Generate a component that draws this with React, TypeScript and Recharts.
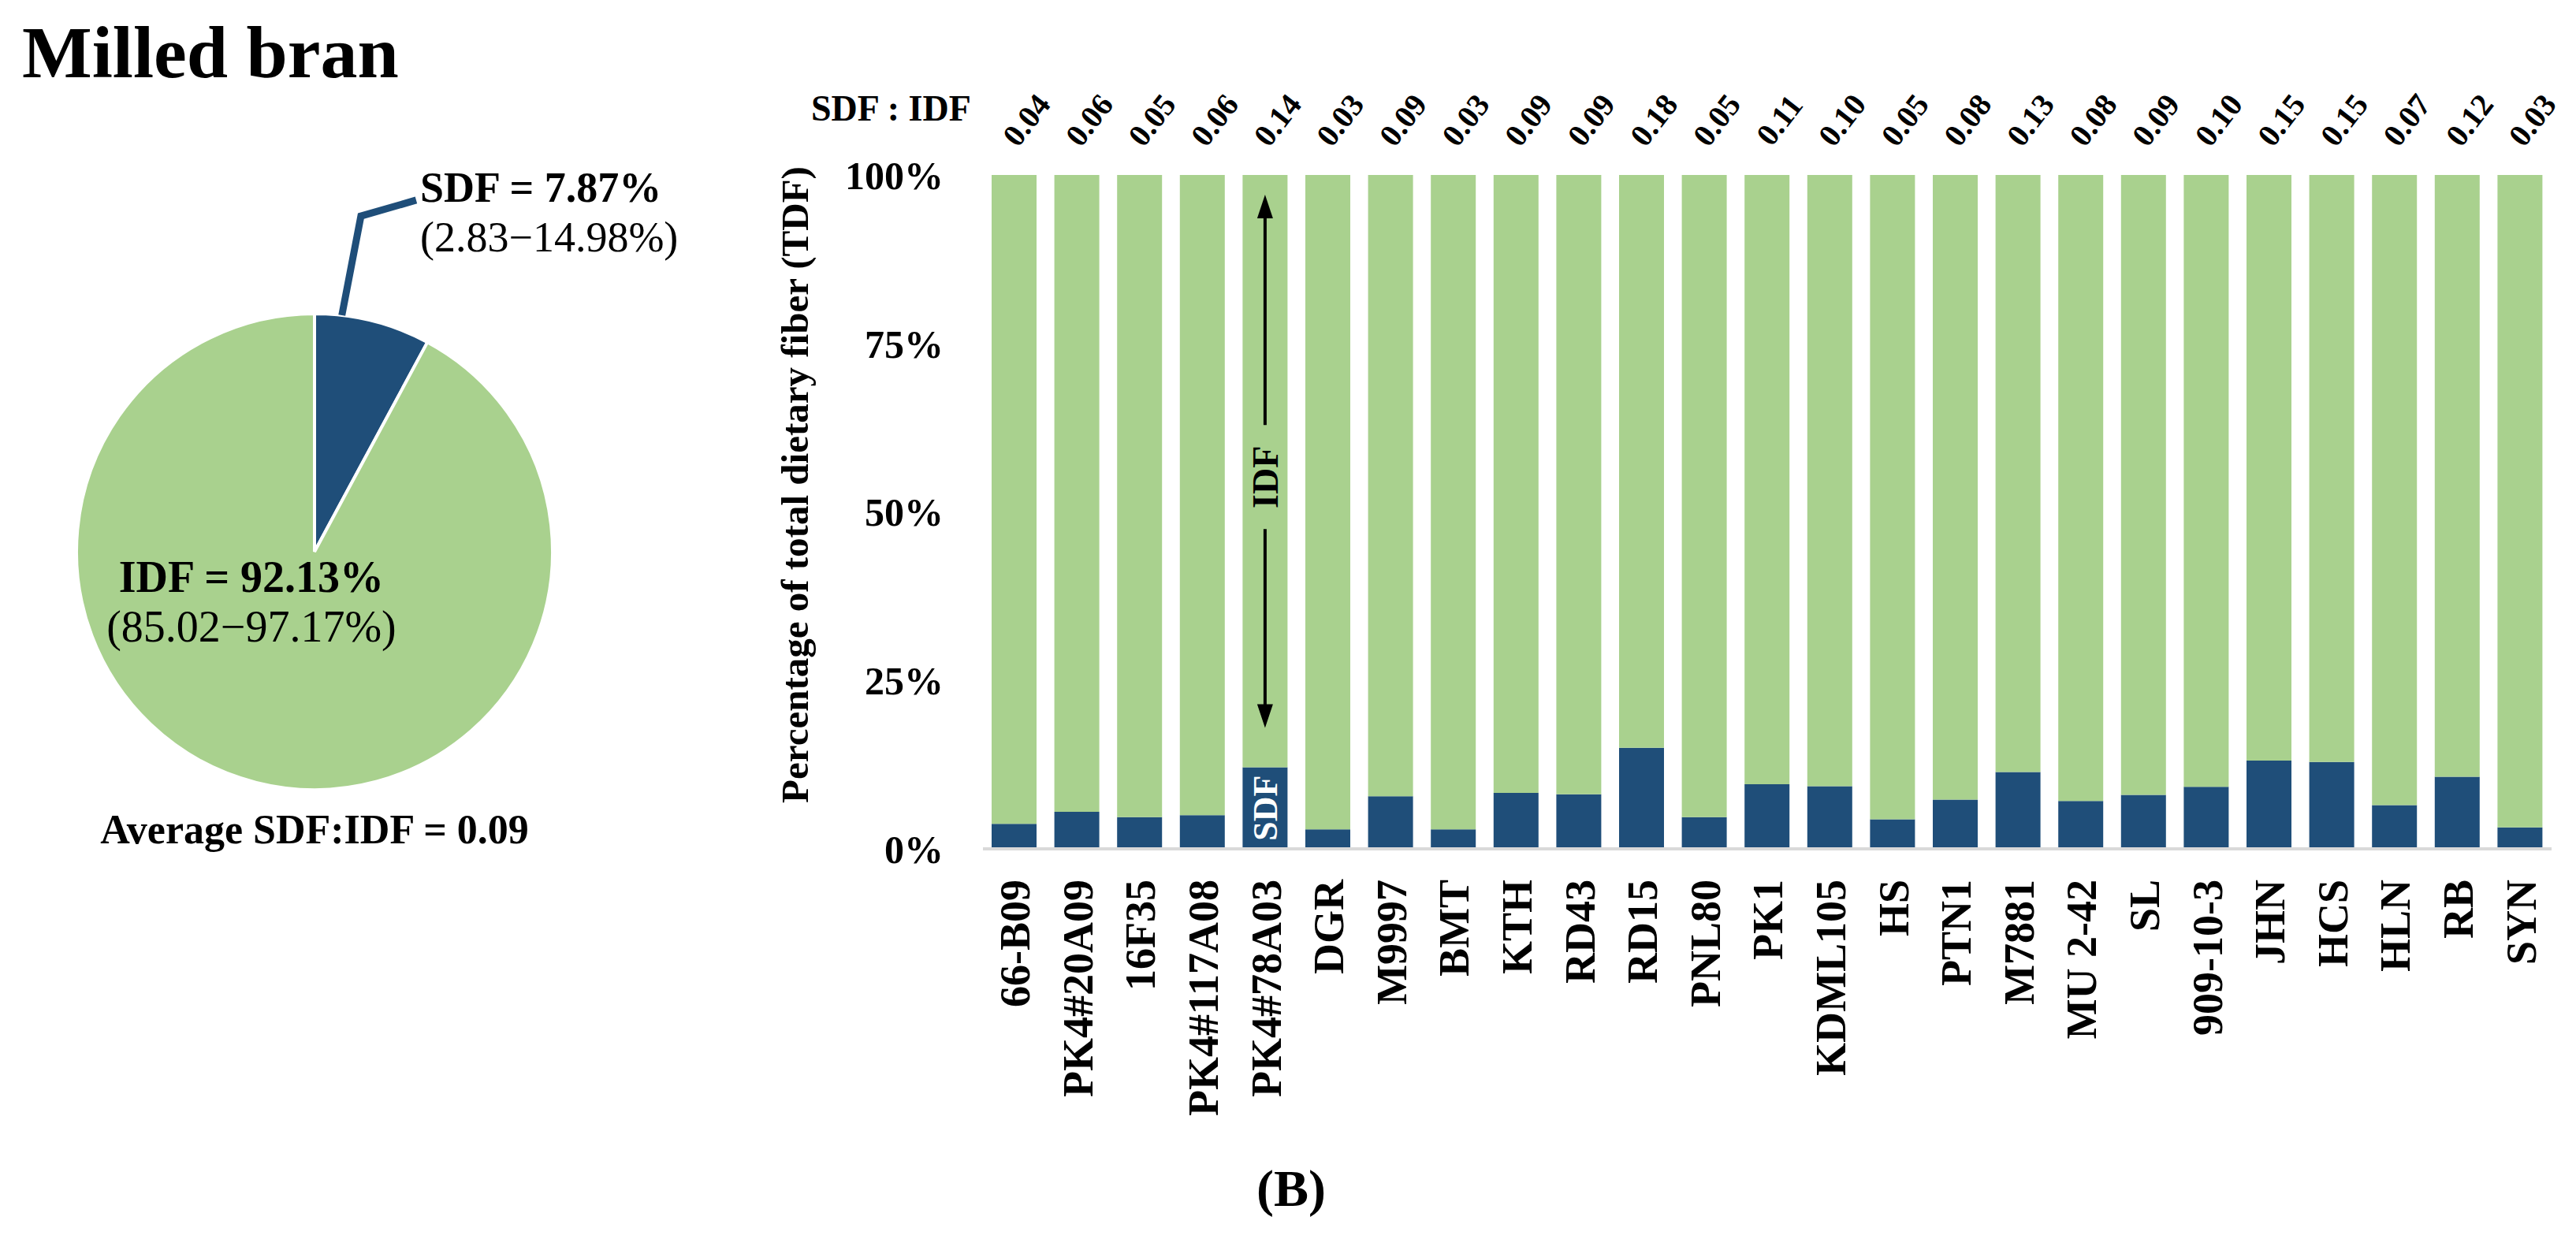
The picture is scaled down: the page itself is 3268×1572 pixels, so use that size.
import React from 'react';
import { BarChart, Bar, XAxis, YAxis, LabelList, PieChart, Pie, Cell } from 'recharts';

// cultivars along the x axis
const cultivars = [
  '66-B09', 'PK4#20A09', '16F35', 'PK4#117A08', 'PK4#78A03', 'DGR', 'M9997', 'BMT',
  'KTH', 'RD43', 'RD15', 'PNL80', 'PK1', 'KDML105', 'HS', 'PTN1', 'M7881', 'MU 2-42',
  'SL', '909-10-3', 'JHN', 'HCS', 'HLN', 'RB', 'SYN',
];

// soluble dietary fiber, % of TDF
const sdfPercent = [
  3.7, 5.5, 4.7, 5.0, 12.1, 2.9, 7.8, 2.9, 8.3, 8.1, 15.0, 4.7, 9.6, 9.3, 4.4, 7.3,
  11.4, 7.1, 8.0, 9.2, 13.1, 12.9, 6.5, 10.7, 3.2,
];

// SDF : IDF ratio printed above each bar
const ratioLabels = [
  '0.04', '0.06', '0.05', '0.06', '0.14', '0.03', '0.09', '0.03', '0.09', '0.09', '0.18',
  '0.05', '0.11', '0.10', '0.05', '0.08', '0.13', '0.08', '0.09', '0.10', '0.15', '0.15',
  '0.07', '0.12', '0.03',
];

const yTicks = [0, 25, 50, 75, 100];

// pie: average composition of milled bran
const pieNames = ['SDF', 'IDF'];
const pieValues = [7.87, 92.13];
const pieRanges = ['(2.83\u221214.98%)', '(85.02\u221297.17%)'];

const DARK = '#1f4e79';
const GREEN = '#a9d18e';
const FONT = '"Liberation Serif", "Times New Roman", serif';

const barData = cultivars.map((name, i) => ({
  name,
  sdf: sdfPercent[i],
  idf: 100 - sdfPercent[i],
  ratio: ratioLabels[i],
}));

const pieData = pieNames.map((name, i) => ({ name, value: pieValues[i], range: pieRanges[i] }));

const renderPieLabel = (props: any) => {
  const { cx, cy, outerRadius, index, payload, value } = props;
  const r = outerRadius;
  if (index === 0) {
    const a = (83.4 * Math.PI) / 180;
    const sx = cx + r * Math.cos(a);
    const sy = cy - r * Math.sin(a);
    const bx = cx + 0.195 * r;
    const by = cy - 1.41 * r;
    const ex = cx + 0.427 * r;
    const ey = cy - 1.477 * r;
    return (
      <g>
        <polyline
          points={`${sx},${sy} ${bx},${by} ${ex},${ey}`}
          fill="none"
          stroke={DARK}
          strokeWidth={9}
        />
        <text x={ex + 5} y={ey + 2} fontFamily={FONT} fontSize={54} fontWeight="bold" fill="#000">
          {`${payload.name} = ${value.toFixed(2)}%`}
        </text>
        <text x={ex + 5} y={ey + 65} fontFamily={FONT} fontSize={54} fill="#000">
          {payload.range}
        </text>
      </g>
    );
  }
  const tx = cx - 0.265 * r;
  return (
    <g>
      <text x={tx} y={cy + 51} textAnchor="middle" fontFamily={FONT} fontSize={56} fontWeight="bold" fill="#000">
        {`${payload.name} = ${value.toFixed(2)}%`}
      </text>
      <text x={tx} y={cy + 114} textAnchor="middle" fontFamily={FONT} fontSize={56} fill="#000">
        {payload.range}
      </text>
    </g>
  );
};

const CategoryTick = ({ x, y, payload }: any) => (
  <text
    x={x}
    y={y}
    transform={`rotate(-90, ${x}, ${y})`}
    textAnchor="end"
    dy="0.36em"
    fontFamily={FONT}
    fontSize={54}
    fontWeight="bold"
    fill="#000"
  >
    {payload.value}
  </text>
);

// ratio printed above the bars, on a hidden top category axis
const RatioTick = ({ x, y, payload }: any) => {
  const lx = Number(x) + 15;
  const ly = Number(y) - 70;
  return (
    <g transform={`translate(${lx}, ${ly}) rotate(-52)`}>
      <text
        x={0}
        y={0}
        textAnchor="middle"
        dy="0.35em"
        fontFamily={FONT}
        fontSize={40}
        fontWeight="bold"
        fill="#000"
      >
        {payload.value}
      </text>
    </g>
  );
};

// arrow + "IDF" drawn inside the PK4#78A03 bar
const IdfArrow = (props: any) => {
  const { x, y, width, height, index } = props;
  if (index !== 4) return null;
  const cx = Number(x) + Number(width) / 2;
  const top = Number(y) + 25;
  const bottom = Number(y) + Number(height) - 50;
  const mid = Number(y) + Number(height) * 0.51;
  return (
    <g>
      <line x1={cx} y1={top + 20} x2={cx} y2={mid - 66} stroke="#000" strokeWidth={4} />
      <polygon points={`${cx},${top} ${cx - 10},${top + 30} ${cx + 10},${top + 30}`} fill="#000" />
      <line x1={cx} y1={mid + 66} x2={cx} y2={bottom - 20} stroke="#000" strokeWidth={4} />
      <polygon points={`${cx},${bottom} ${cx - 10},${bottom - 30} ${cx + 10},${bottom - 30}`} fill="#000" />
      <text
        x={cx}
        y={mid}
        transform={`rotate(-90, ${cx}, ${mid})`}
        textAnchor="middle"
        dy="0.35em"
        fontFamily={FONT}
        fontSize={46}
        fontWeight="bold"
        fill="#000"
      >
        IDF
      </text>
    </g>
  );
};

const SdfTag = (props: any) => {
  const { x, y, width, height, index } = props;
  if (index !== 4) return null;
  const cx = Number(x) + Number(width) / 2;
  const cy = Number(y) + Number(height) / 2;
  return (
    <text
      x={cx}
      y={cy}
      transform={`rotate(-90, ${cx}, ${cy})`}
      textAnchor="middle"
      dy="0.35em"
      fontFamily={FONT}
      fontSize={44}
      fontWeight="bold"
      fill="#fff"
    >
      SDF
    </text>
  );
};

const App: React.FC = () => {
  return (
    <div style={{ position: 'relative', width: 3252, height: 1556, background: '#fff' }}>
      {/* Pie */}
      <div style={{ position: 'absolute', left: 0, top: 0 }}>
        <PieChart width={900} height={1150} margin={{ top: 0, right: 0, bottom: 0, left: 0 }}>
          <Pie
            data={pieData}
            dataKey="value"
            cx={391}
            cy={692}
            outerRadius={302}
            startAngle={90}
            endAngle={-270}
            label={renderPieLabel}
            labelLine={false}
            isAnimationActive={false}
          >
            <Cell fill={DARK} stroke="#fff" strokeWidth={4} />
            <Cell fill={GREEN} stroke="#fff" strokeWidth={4} />
          </Pie>
        </PieChart>
      </div>

      {/* Stacked bars */}
      <div style={{ position: 'absolute', left: 880, top: 0 }}>
        <BarChart
          width={2372}
          height={1556}
          data={barData}
          margin={{ top: 114, right: 23, bottom: 87, left: 239 }}
        >
          <XAxis
            dataKey="name"
            interval={0}
            tickLine={false}
            tickSize={0}
            tickMargin={39}
            height={400}
            axisLine={{ stroke: '#d9d9d9', strokeWidth: 4 }}
            tick={<CategoryTick />}
          />
          <XAxis
            xAxisId="ratio"
            orientation="top"
            dataKey="ratio"
            interval={0}
            height={100}
            axisLine={false}
            tickLine={false}
            tickSize={0}
            tickMargin={0}
            tick={<RatioTick />}
          />
          <YAxis
            domain={[0, 100]}
            ticks={yTicks}
            tickFormatter={(v: number) => `${v}%`}
            axisLine={false}
            tickLine={false}
            tickSize={0}
            tickMargin={50}
            width={120}
            tick={{ fontSize: 50, fontWeight: 'bold', fill: '#000', fontFamily: FONT }}
          />
          <Bar dataKey="sdf" stackId="a" fill={DARK} barSize={57} isAnimationActive={false}>
            <LabelList dataKey="sdf" content={<SdfTag />} />
          </Bar>
          <Bar dataKey="idf" stackId="a" fill={GREEN} barSize={57} isAnimationActive={false}>
            <LabelList dataKey="idf" content={<IdfArrow />} />
          </Bar>
        </BarChart>
      </div>

      {/* titles and notes */}
      <svg
        width={3252}
        height={1556}
        style={{ position: 'absolute', left: 0, top: 0, pointerEvents: 'none' }}
      >
        <text x={20} y={90} fontFamily={FONT} fontSize={94} fontWeight="bold" fill="#000">
          Milled bran
        </text>
        <text x={391} y={1062} textAnchor="middle" fontFamily={FONT} fontSize={52} fontWeight="bold" fill="#000">
          Average SDF:IDF = 0.09
        </text>
        <text x={1021} y={145} fontFamily={FONT} fontSize={46} fontWeight="bold" fill="#000">
          SDF : IDF
        </text>
        <text
          x={1000}
          y={607}
          transform="rotate(-90, 1000, 607)"
          textAnchor="middle"
          dy="0.35em"
          fontFamily={FONT}
          fontSize={49}
          fontWeight="bold"
          fill="#000"
        >
          Percentage of total dietary fiber (TDF)
        </text>
        <text x={1630} y={1522} textAnchor="middle" fontFamily={FONT} fontSize={66} fontWeight="bold" fill="#000">
          (B)
        </text>
      </svg>
    </div>
  );
};

export default App;
